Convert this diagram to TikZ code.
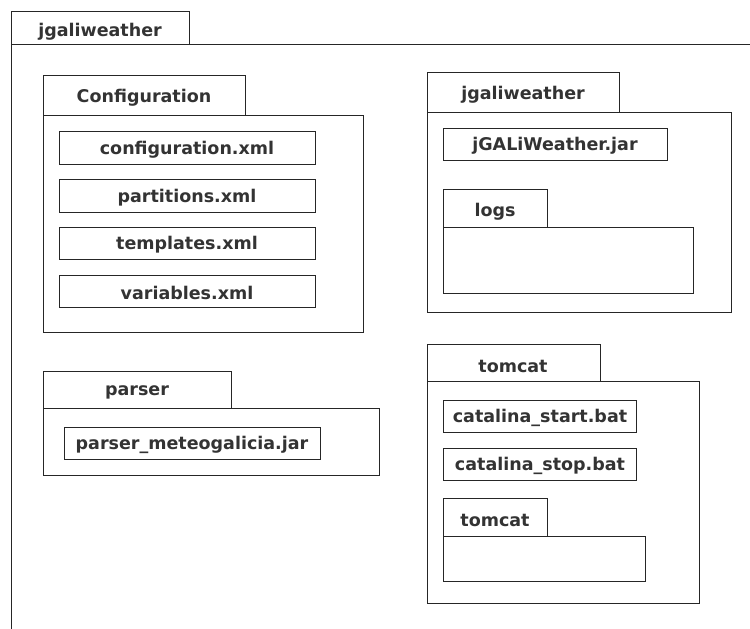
\documentclass[tikz,border=0pt]{standalone}
\usepackage{fontspec}
\newfontfamily\pkgfont{DejaVu Sans}
\begin{document}
\begin{tikzpicture}[x=1pt,y=-1pt,
  ln/.style={draw=black!85, line width=1pt},
  lbl/.style={font=\pkgfont\bfseries\fontsize{17.5}{20}\selectfont, text=black!80, inner sep=0pt, anchor=center},
  filebox/.style={ln, fill=white}
]
\useasboundingbox (0,0) rectangle (750,629);
\fill[white] (0,0) rectangle (750,629);

% outer package jgaliweather (body runs off the page to the right and bottom)
\draw[ln] (11,11) rectangle (189,44);
\draw[ln] (11,629) -- (11,44) -- (750,44);
\node[lbl] (root) at (100,32) {jgaliweather};

% Configuration package
\draw[ln] (43,75) rectangle (245,115);
\draw[ln] (43,115) rectangle (363,332);
\node[lbl] (conf) at (144,98) {Configuration};
\draw[filebox] (59,131) rectangle (315,164);
\node[lbl] (cfgxml) at (187,150) {configuration.xml};
\draw[filebox] (59,179) rectangle (315,212);
\node[lbl] (partxml) at (187,198) {partitions.xml};
\draw[filebox] (59,227) rectangle (315,259);
\node[lbl] (tplxml) at (187,245) {templates.xml};
\draw[filebox] (59,275) rectangle (315,307);
\node[lbl] (varxml) at (187,293) {variables.xml};

% parser package
\draw[ln] (43,371) rectangle (231,408);
\draw[ln] (43,408) rectangle (379,475);
\node[lbl] (parser) at (137,392) {parser};
\draw[filebox] (64,427) rectangle (320,459);
\node[lbl] (parserjar) at (192,445) {parser\_meteogalicia.jar};

% jgaliweather application package
\draw[ln] (427,72) rectangle (619,112);
\draw[ln] (427,112) rectangle (731,312);
\node[lbl] (app) at (523,95) {jgaliweather};
\draw[filebox] (443,128) rectangle (667,160);
\node[lbl] (appjar) at (555,146) {jGALiWeather.jar};
\draw[ln] (443,189) rectangle (547,227);
\draw[ln] (443,227) rectangle (693,293);
\node[lbl] (logs) at (495,212) {logs};

% tomcat package
\draw[ln] (427,344) rectangle (600,381);
\draw[ln] (427,381) rectangle (699,603);
\node[lbl] (tomcat) at (513,366) {tomcat};
\draw[filebox] (443,400) rectangle (636,432);
\node[lbl] (cstart) at (540,418) {catalina\_start.bat};
\draw[filebox] (443,448) rectangle (636,480);
\node[lbl] (cstop) at (540,466) {catalina\_stop.bat};
\draw[ln] (443,498) rectangle (547,536);
\draw[ln] (443,536) rectangle (645,581);
\node[lbl] (tomcatin) at (495,520) {tomcat};
\end{tikzpicture}
\end{document}
